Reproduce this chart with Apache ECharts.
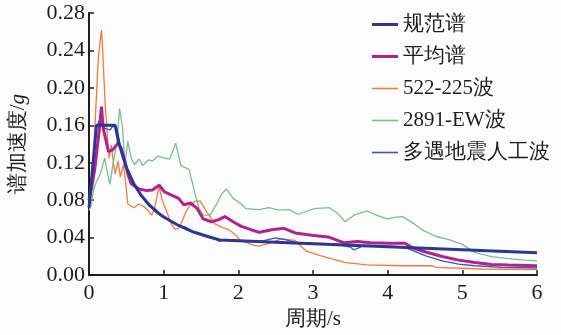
<!DOCTYPE html>
<html>
<head>
<meta charset="utf-8">
<script src="https://cdn.jsdelivr.net/npm/echarts@6/dist/echarts.min.js"></script>
<style>
  html, body { margin: 0; padding: 0; background: #fcfcfc; }
  #chart { width: 561px; height: 335px; }
</style>
</head>
<body>
<div id="chart"></div>
<script>
// 规范谱
const codeT = [0, 0.1, 0.35, 0.4, 0.5, 0.6, 0.7, 0.8, 0.9, 1.0, 1.2, 1.4, 1.6, 1.75, 2, 2.5, 3, 3.5, 4, 4.5, 5, 5.5, 6];
const codeA = [0.072, 0.16, 0.16, 0.141, 0.115, 0.0975, 0.085, 0.0756, 0.068, 0.062, 0.053, 0.046, 0.041, 0.0376, 0.0368, 0.0352, 0.0336, 0.032, 0.0304, 0.0288, 0.0272, 0.0256, 0.024];

// 平均谱
const avgT = [0, 0.04, 0.08, 0.14, 0.167, 0.19, 0.23, 0.26, 0.32, 0.39, 0.43, 0.48, 0.52, 0.565, 0.67, 0.76, 0.85, 0.94, 1.01, 1.12, 1.2, 1.27, 1.36, 1.45, 1.53, 1.64, 1.73, 1.82, 1.93, 2.04, 2.17, 2.28, 2.45, 2.61, 2.76, 2.98, 3.2, 3.33, 3.42, 3.59, 3.77, 4.03, 4.23, 4.34, 4.51, 4.73, 4.95, 5.17, 5.39, 5.61, 6];
const avgA = [0.08, 0.095, 0.115, 0.157, 0.18, 0.157, 0.143, 0.132, 0.134, 0.141, 0.136, 0.122, 0.108, 0.0975, 0.092, 0.0905, 0.091, 0.096, 0.089, 0.085, 0.082, 0.075, 0.077, 0.071, 0.06, 0.057, 0.059, 0.0625, 0.057, 0.052, 0.0485, 0.0457, 0.0485, 0.05, 0.045, 0.0425, 0.0408, 0.037, 0.0345, 0.036, 0.0345, 0.034, 0.034, 0.029, 0.0247, 0.0198, 0.016, 0.0135, 0.0113, 0.0107, 0.01];

// 522-225波
const w522T = [0, 0.05, 0.08, 0.105, 0.127, 0.15, 0.167, 0.184, 0.215, 0.245, 0.27, 0.3, 0.33, 0.35, 0.39, 0.42, 0.46, 0.49, 0.52, 0.6, 0.67, 0.74, 0.8, 0.84, 0.88, 0.92, 0.94, 0.98, 1.04, 1.1, 1.15, 1.2, 1.25, 1.3, 1.36, 1.42, 1.49, 1.58, 1.68, 1.78, 1.86, 1.95, 2.03, 2.1, 2.2, 2.28, 2.41, 2.58, 2.76, 2.85, 2.91, 3.11, 3.42, 3.72, 4.2, 4.6, 4.65, 5.26, 6];
const w522A = [0.08, 0.11, 0.16, 0.2, 0.234, 0.236, 0.262, 0.238, 0.185, 0.15, 0.125, 0.139, 0.118, 0.108, 0.122, 0.105, 0.118, 0.1, 0.076, 0.072, 0.076, 0.073, 0.068, 0.064, 0.072, 0.088, 0.094, 0.08, 0.068, 0.055, 0.049, 0.05, 0.058, 0.068, 0.075, 0.079, 0.079, 0.067, 0.055, 0.051, 0.049, 0.044, 0.037, 0.035, 0.032, 0.031, 0.034, 0.0387, 0.037, 0.03, 0.0257, 0.0205, 0.0135, 0.011, 0.01, 0.01, 0.0082, 0.0065, 0.0058];

// 2891-EW波
const ewT = [0, 0.03, 0.06, 0.1, 0.15, 0.21, 0.25, 0.28, 0.32, 0.37, 0.41, 0.45, 0.48, 0.52, 0.565, 0.61, 0.67, 0.72, 0.79, 0.85, 0.92, 1.01, 1.08, 1.12, 1.16, 1.2, 1.23, 1.34, 1.38, 1.42, 1.47, 1.53, 1.62, 1.71, 1.78, 1.84, 1.93, 2.04, 2.1, 2.28, 2.41, 2.54, 2.68, 2.8, 3.02, 3.22, 3.33, 3.43, 3.55, 3.72, 3.85, 3.99, 4.12, 4.2, 4.34, 4.47, 4.64, 4.82, 5.0, 5.17, 5.39, 5.61, 5.83, 6];
const ewA = [0.069, 0.075, 0.091, 0.1, 0.108, 0.125, 0.108, 0.097, 0.118, 0.139, 0.178, 0.157, 0.118, 0.143, 0.125, 0.118, 0.124, 0.117, 0.123, 0.122, 0.127, 0.125, 0.124, 0.132, 0.141, 0.128, 0.117, 0.113, 0.1, 0.087, 0.072, 0.064, 0.064, 0.076, 0.087, 0.092, 0.082, 0.076, 0.071, 0.07, 0.072, 0.0695, 0.07, 0.065, 0.071, 0.072, 0.066, 0.057, 0.064, 0.0685, 0.064, 0.06, 0.062, 0.0625, 0.0555, 0.048, 0.0415, 0.038, 0.0328, 0.024, 0.0198, 0.0177, 0.016, 0.0152];

// 多遇地震人工波
const artT = [0, 0.05, 0.1, 0.15, 0.21, 0.28, 0.32, 0.37, 0.42, 0.5, 0.6, 0.7, 0.8, 0.9, 0.95, 1.0, 1.1, 1.2, 1.3, 1.4, 1.5, 1.6, 1.7, 1.75, 1.8, 2.0, 2.3, 2.5, 2.63, 2.76, 3.0, 3.3, 3.5, 3.55, 3.61, 3.68, 4.0, 4.2, 4.25, 4.51, 4.73, 4.95, 5.17, 5.52, 6];
const artA = [0.072, 0.12, 0.158, 0.167, 0.157, 0.155, 0.159, 0.158, 0.138, 0.114, 0.096, 0.086, 0.074, 0.07, 0.064, 0.063, 0.057, 0.053, 0.051, 0.046, 0.044, 0.041, 0.038, 0.036, 0.038, 0.037, 0.036, 0.0397, 0.038, 0.035, 0.034, 0.033, 0.03, 0.0268, 0.029, 0.0317, 0.031, 0.03, 0.029, 0.0205, 0.0152, 0.0118, 0.01, 0.0082, 0.0076];

const yTicks = ['0.00', '0.04', '0.08', '0.12', '0.16', '0.20', '0.24', '0.28'];

const INK = '#1e1e1e';

function pairs(ts, as) {
  return ts.map((t, i) => [t, as[i]]);
}

const chart = echarts.init(document.getElementById('chart'));

function makeLine(name, ts, as, color, width, z) {
  return {
    name: name,
    type: 'line',
    data: pairs(ts, as),
    symbol: 'none',
    showSymbol: false,
    z: z,
    lineStyle: { color: color, width: width },
    itemStyle: { color: color }
  };
}

// legend icons: plain line segments, thick for the two spectra
const thick = 'path://M0,0H26V3H0Z';
const thin = 'path://M0,0H26V1.6H0Z';

chart.setOption({
  animation: false,
  grid: { left: 81, right: 24, top: 13, bottom: 56 },
  legend: {
    orient: 'vertical',
    left: 367,
    top: 9,
    itemWidth: 26,
    itemHeight: 14,
    itemGap: 11,
    textStyle: { fontFamily: 'serif', fontSize: 21, color: INK },
    data: [
      { name: '规范谱', icon: thick },
      { name: '平均谱', icon: thick },
      { name: '522-225波', icon: thin },
      { name: '2891-EW波', icon: thin },
      { name: '多遇地震人工波', icon: thin }
    ]
  },
  xAxis: {
    type: 'value',
    min: 0,
    max: 6,
    interval: 1,
    name: '周期/s',
    nameLocation: 'middle',
    nameGap: 33,
    nameTextStyle: { fontFamily: 'serif', fontSize: 21, color: INK },
    axisLine: { lineStyle: { color: INK, width: 2 } },
    axisTick: { inside: true, length: 5, lineStyle: { color: INK, width: 1.5 } },
    axisLabel: { fontFamily: 'serif', fontSize: 22, color: INK, margin: 7 },
    splitLine: { show: false }
  },
  yAxis: {
    type: 'value',
    min: 0,
    max: 0.28,
    interval: 0.04,
    name: '谱加速度/{i|g}',
    nameLocation: 'middle',
    nameGap: 60,
    nameTextStyle: {
      fontFamily: 'serif', fontSize: 21, color: INK,
      rich: { i: { fontStyle: 'italic', fontFamily: 'serif', fontSize: 21, color: INK } }
    },
    axisLine: { show: true, lineStyle: { color: INK, width: 2 } },
    axisTick: { show: true, inside: true, length: 5, lineStyle: { color: INK, width: 1.5 } },
    axisLabel: {
      fontFamily: 'serif', fontSize: 22, color: INK, margin: 4,
      formatter: (v) => yTicks[Math.round(v / 0.04)]
    },
    splitLine: { show: false }
  },
  series: [
    makeLine('522-225波', w522T, w522A, '#f5793b', 1.3, 2),
    makeLine('2891-EW波', ewT, ewA, '#76c192', 1.3, 2),
    makeLine('多遇地震人工波', artT, artA, '#3a55b5', 1.3, 3),
    makeLine('平均谱', avgT, avgA, '#b3218e', 3, 4),
    makeLine('规范谱', codeT, codeA, '#2b3795', 3, 5)
  ]
});
</script>
</body>
</html>
